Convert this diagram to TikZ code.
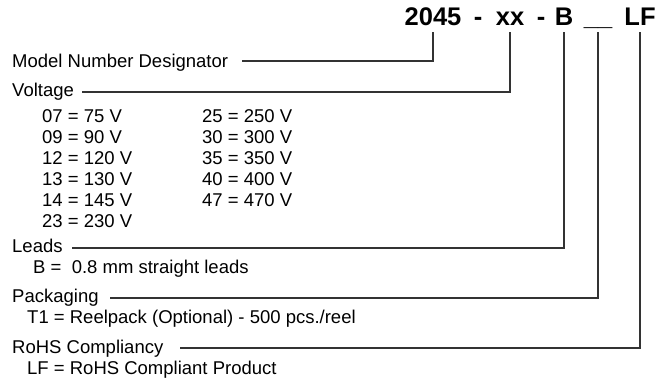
\documentclass[tikz,border=0pt]{standalone}
\usepackage{fontspec}
\setmainfont{Liberation Sans}
\begin{document}
\begin{tikzpicture}[x=1pt,y=-1pt,
  lbl/.style={anchor=base west,inner sep=0pt,font=\fontsize{18.5}{21}\selectfont},
  hdr/.style={anchor=base,inner sep=0pt,font=\fontsize{25.5}{30}\selectfont\bfseries},
  conn/.style={draw=black!80,line width=1.3pt}]
\useasboundingbox (0,0) rectangle (668,384);
% header
\node[hdr] (h2045) at (433,25) {2045};
\node[hdr] (d1) at (478,25) {-};
\node[hdr] (hxx) at (510,25) {xx};
\node[hdr] (d2) at (541,25) {-};
\node[hdr] (hB) at (564,25) {B};
\node[hdr] (hpk) at (598,25) {\_\_};
\node[hdr] (hLF) at (640,25) {LF};
\coordinate (top) at (0,32);
% labels
\node[lbl] (mnd) at (12,67) {Model Number Designator};
\node[lbl] (volt) at (12,96) {Voltage};
\node[lbl] (v07) at (42,122) {07 = 75 V};
\node[lbl] (v09) at (42,143) {09 = 90 V};
\node[lbl] (v12) at (42,164) {12 = 120 V};
\node[lbl] (v13) at (42,185) {13 = 130 V};
\node[lbl] (v14) at (42,206) {14 = 145 V};
\node[lbl] (v23) at (42,227) {23 = 230 V};
\node[lbl] (v25) at (202,122) {25 = 250 V};
\node[lbl] (v30) at (202,143) {30 = 300 V};
\node[lbl] (v35) at (202,164) {35 = 350 V};
\node[lbl] (v40) at (202,185) {40 = 400 V};
\node[lbl] (v47) at (202,206) {47 = 470 V};
\node[lbl] (leads) at (12,252) {Leads};
\node[lbl] (leadsB) at (33,273) {B =\ \ 0.8 mm straight leads};
\node[lbl] (pack) at (12,302) {Packaging};
\node[lbl] (packT) at (27,323) {T1 =\ Reelpack (Optional) - 500 pcs./reel};
\node[lbl] (rohs) at (12,353) {RoHS Compliancy};
\node[lbl] (rohsLF) at (27,374) {LF = RoHS Compliant Product};
% line starts
\coordinate (cm) at (242,61);
\coordinate (cv) at (82,92);
\coordinate (cl) at (72,248);
\coordinate (cp) at (110,298);
\coordinate (cr) at (180,348);
% connectors
\draw[conn] (h2045 |- top) |- (cm);
\draw[conn] (hxx |- top) |- (cv);
\draw[conn] (hB |- top) |- (cl);
\draw[conn] (hpk |- top) |- (cp);
\draw[conn] (hLF |- top) |- (cr);
\end{tikzpicture}
\end{document}
